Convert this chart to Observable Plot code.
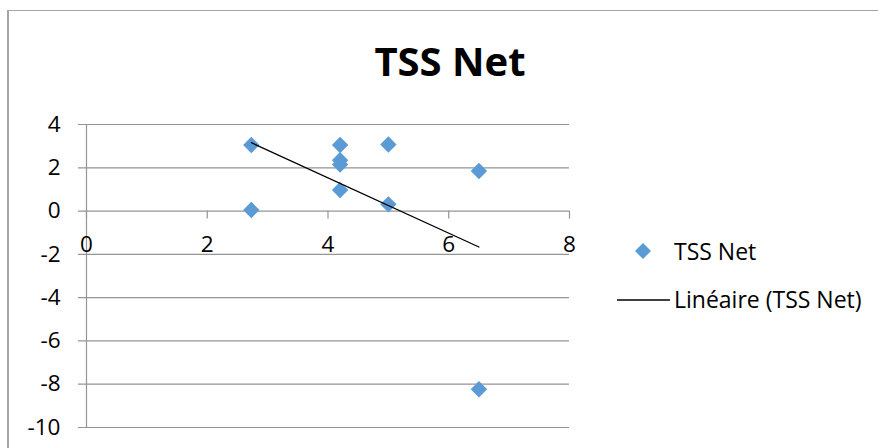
<!DOCTYPE html>
<html>
<head>
<meta charset="utf-8">
<script src="https://cdn.jsdelivr.net/npm/d3@7"></script>
<script src="https://cdn.jsdelivr.net/npm/@observablehq/plot@0.6"></script>
<style>
  html, body { margin: 0; padding: 0; background: #fff; overflow: hidden; }
  #wrap { position: relative; width: 878px; height: 448px; overflow: hidden; font-family: "Open Sans", sans-serif; }
  #frame { position: absolute; left: 7px; top: 10px; width: 900px; height: 500px; border-left: 2px solid #a6a6a6; border-top: 1.5px solid #a6a6a6; }
  #chart { position: absolute; left: 0; top: 0; }
  #overlay { position: absolute; left: 0; top: 0; }
</style>
</head>
<body>
<div id="wrap">
  <div id="frame"></div>
  <div id="chart"></div>
  <svg id="overlay" width="878" height="448"></svg>
</div>
<script>
// ---- data ----
const xValues = [2.73, 2.73, 4.2, 4.2, 4.2, 4.2, 5.0, 5.0, 6.5, 6.5];
const yValues = [3.05, 0.05, 3.05, 2.35, 2.15, 0.97, 3.08, 0.31, 1.85, -8.23];
const xTicks = [0, 2, 4, 6, 8];
const yTicks = [-10, -8, -6, -4, -2, 0, 2, 4];
const chartTitle = "TSS Net";
const seriesName = "TSS Net";
const trendName = "Linéaire (TSS Net)";

const data = xValues.map((x, i) => ({x, y: yValues[i]}));

const blue = "#5B9BD5";
const grid = "#959595";
const fontFamily = "Open Sans";

const chart = Plot.plot({
  width: 878,
  height: 448,
  marginLeft: 86,
  marginRight: 309,
  marginTop: 124,
  marginBottom: 21,
  style: {background: "transparent", fontFamily: fontFamily, color: "#000"},
  x: {domain: [0, 8], axis: null},
  y: {domain: [-10, 4], axis: null},
  marks: [
    Plot.ruleY(yTicks, {y: d => d, x1: xTicks[0], x2: xTicks[xTicks.length - 1], stroke: grid, strokeWidth: 1.2, insetLeft: -8}),
    Plot.ruleX([0], {y1: yTicks[0], y2: yTicks[yTicks.length - 1], stroke: grid, strokeWidth: 1.2}),
    Plot.ruleX(xTicks, {x: d => d, y1: 0, y2: 0, insetBottom: -8, stroke: grid, strokeWidth: 1.2}),
    Plot.text(xTicks, {x: d => d, y: 0, text: d => String(d), dy: 34, fontSize: 22.5, fill: "#000"}),
    Plot.text(yTicks, {x: 0, y: d => d, text: d => String(d), textAnchor: "end", dx: -26, fontSize: 22.5, fill: "#000"}),
    Plot.dot(data, {x: "x", y: "y", symbol: "diamond2", r: 7.4, fill: blue, stroke: null}),
    Plot.linearRegressionY(data, {x: "x", y: "y", ci: 0, stroke: "#000", strokeWidth: 1.3})
  ]
});
document.getElementById("chart").appendChild(chart);

// ---- title & legend ----
const ov = d3.select("#overlay");
ov.append("text")
  .attr("x", 450).attr("y", 75.5)
  .attr("text-anchor", "middle")
  .style("font-family", fontFamily)
  .style("font-weight", "bold")
  .style("font-size", "40px")
  .text(chartTitle);

const lx = 643, ly = 251, h = 8;
ov.append("path")
  .attr("d", `M${lx},${ly - h}L${lx + h},${ly}L${lx},${ly + h}L${lx - h},${ly}Z`)
  .attr("fill", blue);
ov.append("text")
  .attr("x", 674).attr("y", 259.5)
  .style("font-family", fontFamily).style("font-size", "23px")
  .text(seriesName);
ov.append("line")
  .attr("x1", 617).attr("x2", 670).attr("y1", 300).attr("y2", 300)
  .attr("stroke", "#000").attr("stroke-width", 1.3);
ov.append("text")
  .attr("x", 674).attr("y", 307.5)
  .style("font-family", fontFamily).style("font-size", "23px")
  .text(trendName);
</script>
</body>
</html>
